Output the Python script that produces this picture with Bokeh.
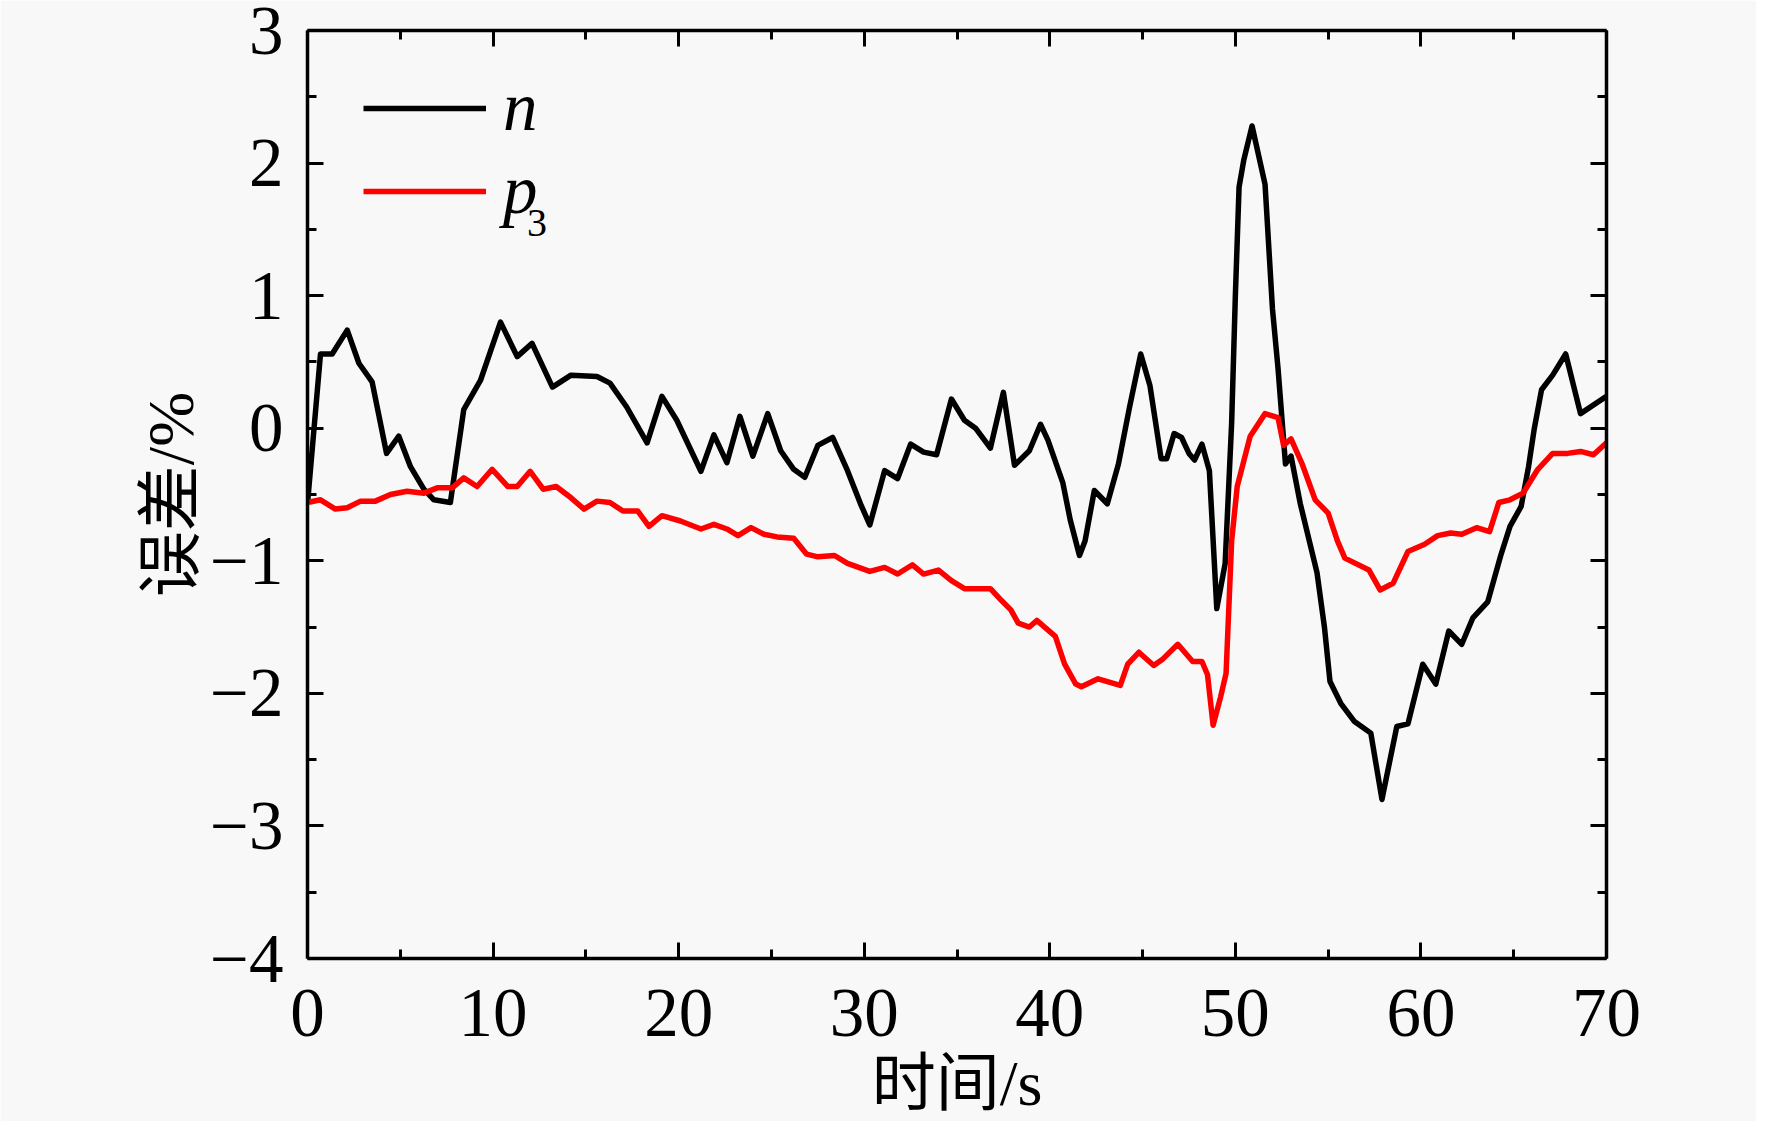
from bokeh.plotting import figure
from bokeh.models import LinearAxis, FixedTicker, Legend, LegendItem, Label, Range1d
from bokeh.embed import file_html
from bokeh.resources import INLINE

# ---- data ----
n_t = [0, 0.7, 1.33, 2.14, 2.77, 3.48, 4.26, 4.92, 5.55, 6.27, 6.81, 7.7, 8.42, 9.32, 10.4, 11.3,
       12.1, 13.2, 14.2, 15.6, 16.3, 17.2, 18.3, 19.1, 19.9, 21.2, 21.9, 22.6, 23.3, 24.0, 24.8,
       25.5, 26.2, 26.8, 27.5, 28.3, 29.1, 29.8, 30.3, 31.1, 31.8, 32.5, 33.2, 33.9, 34.7, 35.4,
       36.0, 36.8, 37.5, 38.1, 38.9, 39.5, 39.9, 40.7, 41.1, 41.6, 41.9, 42.4, 43.1, 43.7, 44.3,
       44.9, 45.4, 46.0, 46.3, 46.7, 47.1, 47.5, 47.8, 48.2, 48.6, 49.0, 49.45, 49.8, 50.0, 50.2,
       50.45, 50.9, 51.6, 52.0, 52.3, 52.7, 53.0, 53.5, 54.4, 54.8, 55.1, 55.7, 56.4, 57.3, 57.9,
       58.7, 59.3, 60.1, 60.8, 61.5, 62.2, 62.8, 63.6, 64.3, 64.8, 65.4, 65.8, 66.1, 66.5, 67.1,
       67.8, 68.6, 70.0]
n_err = [-0.57, 0.56, 0.56, 0.74, 0.49, 0.35, -0.19, -0.06, -0.29, -0.46, -0.54, -0.56, 0.14, 0.36,
         0.80, 0.54, 0.64, 0.31, 0.40, 0.39, 0.34, 0.16, -0.11, 0.24, 0.06, -0.325, -0.05, -0.26,
         0.09, -0.21, 0.11, -0.17, -0.31, -0.37, -0.13, -0.07, -0.32, -0.57, -0.73, -0.32, -0.38,
         -0.12, -0.18, -0.20, 0.22, 0.06, 0.0, -0.15, 0.27, -0.28, -0.17, 0.03, -0.09, -0.41, -0.69,
         -0.96, -0.85, -0.47, -0.57, -0.27, 0.16, 0.56, 0.32, -0.23, -0.23, -0.04, -0.07, -0.19,
         -0.24, -0.12, -0.32, -1.36, -1.02, 0.04, 1.0, 1.82, 2.02, 2.28, 1.84, 0.90, 0.45, -0.27,
         -0.21, -0.57, -1.09, -1.50, -1.91, -2.08, -2.21, -2.30, -2.80, -2.25, -2.23, -1.78, -1.93,
         -1.53, -1.63, -1.43, -1.31, -0.96, -0.74, -0.59, -0.29, -0.01, 0.29, 0.40, 0.56, 0.11, 0.24]

p3_t = [0, 0.7, 1.5, 2.14, 2.86, 3.66, 4.47, 5.37, 6.27, 6.99, 7.8, 8.42, 9.14, 9.95, 10.8, 11.3,
        12.0, 12.7, 13.4, 14.2, 14.9, 15.6, 16.3, 17.0, 17.8, 18.4, 19.1, 20.1, 21.2, 21.9, 22.6,
        23.2, 23.9, 24.6, 25.3, 26.2, 26.9, 27.5, 28.4, 29.1, 30.3, 31.1, 31.8, 32.6, 33.2, 34.0,
        34.7, 35.4, 36.8, 37.4, 37.9, 38.3, 38.9, 39.3, 40.3, 40.8, 41.4, 41.7, 42.6, 43.8, 44.2,
        44.8, 45.6, 46.1, 46.9, 47.7, 48.2, 48.5, 48.8, 49.2, 49.5, 49.8, 50.1, 50.8, 51.6, 52.3,
        52.6, 53.0, 53.6, 54.3, 55.0, 55.5, 55.9, 57.2, 57.8, 58.5, 59.3, 60.2, 60.9, 61.6, 62.2,
        63.0, 63.7, 64.2, 64.8, 65.5, 66.3, 67.1, 67.9, 68.6, 69.3, 70.0]
p3_err = [-0.56, -0.54, -0.61, -0.60, -0.55, -0.55, -0.50, -0.475, -0.49, -0.45, -0.45, -0.375,
          -0.44, -0.31, -0.44, -0.44, -0.325, -0.46, -0.44, -0.525, -0.61, -0.55, -0.56, -0.625,
          -0.625, -0.74, -0.66, -0.70, -0.76, -0.725, -0.76, -0.81, -0.75, -0.80, -0.82, -0.83,
          -0.95, -0.97, -0.96, -1.02, -1.08, -1.05, -1.10, -1.03, -1.10, -1.07, -1.15, -1.21, -1.21,
          -1.30, -1.37, -1.47, -1.50, -1.45, -1.57, -1.78, -1.93, -1.95, -1.89, -1.94, -1.78, -1.69,
          -1.79, -1.74, -1.63, -1.76, -1.76, -1.86, -2.24, -2.03, -1.85, -0.85, -0.44, -0.06, 0.11,
          0.08, -0.13, -0.08, -0.27, -0.54, -0.64, -0.85, -0.98, -1.07, -1.22, -1.17, -0.93, -0.875,
          -0.81, -0.79, -0.80, -0.75, -0.78, -0.56, -0.54, -0.49, -0.31, -0.19, -0.19, -0.175,
          -0.20, -0.11]

x_ticks = [0, 10, 20, 30, 40, 50, 60, 70]
x_tick_labels = ["0", "10", "20", "30", "40", "50", "60", "70"]
x_minor = [5, 15, 25, 35, 45, 55, 65]
y_ticks = [-4, -3, -2, -1, 0, 1, 2, 3]
y_tick_labels = ["\u22124", "\u22123", "\u22122", "\u22121", "0", "1", "2", "3"]
y_minor = [-3.5, -2.5, -1.5, -0.5, 0.5, 1.5, 2.5]
legend_labels = ["n", "p"]
legend_sub = "3"
x_title = "时间/s"
y_title = "误差/%"

SERIF = "Liberation Serif"
MIXED = "Liberation Serif, Noto Sans CJK SC"
BG = "#f8f8f8"

p = figure(width=1756, height=1121, x_range=Range1d(0, 70), y_range=Range1d(-4, 3),
           output_backend="svg", toolbar_location=None,
           min_border_left=307, min_border_top=30, min_border_right=150, min_border_bottom=163)
p.background_fill_color = BG
p.border_fill_color = BG
p.outline_line_color = None
p.grid.visible = False

xt = FixedTicker(ticks=x_ticks, minor_ticks=x_minor)
yt = FixedTicker(ticks=y_ticks, minor_ticks=y_minor)


def style(ax):
    ax.axis_line_color = "black"
    ax.axis_line_width = 3.5
    ax.major_tick_in = 16
    ax.major_tick_out = 0
    ax.minor_tick_in = 9
    ax.minor_tick_out = 0
    ax.major_tick_line_width = 3
    ax.minor_tick_line_width = 3
    ax.major_tick_line_color = "black"
    ax.minor_tick_line_color = "black"
    ax.major_label_text_font = SERIF
    ax.major_label_text_color = "black"
    ax.major_label_text_font_size = "69px"


xa = p.xaxis[0]
xa.ticker = xt
xa.major_label_overrides = dict(zip(x_ticks, x_tick_labels))
style(xa)
xa.major_label_standoff = 31
xa.axis_label = x_title
xa.axis_label_text_font = MIXED
xa.axis_label_text_font_style = "normal"
xa.axis_label_text_font_size = "64px"
xa.axis_label_text_color = "black"
xa.axis_label_standoff = 9

ya = p.yaxis[0]
ya.ticker = yt
ya.major_label_overrides = dict(zip(y_ticks, y_tick_labels))
style(ya)
ya.major_label_standoff = 24
ya.axis_label = y_title
ya.axis_label_text_font = MIXED
ya.axis_label_text_font_style = "normal"
ya.axis_label_text_font_size = "66px"
ya.axis_label_text_color = "black"
ya.axis_label_standoff = 0

# mirrored axes on top and right: ticks only, empty labels
top = LinearAxis(ticker=xt)
style(top)
top.major_label_overrides = {t: "" for t in x_ticks}
top.major_label_text_font_size = "1px"
top.major_label_standoff = 0
p.add_layout(top, "above")
right = LinearAxis(ticker=yt)
style(right)
right.major_label_overrides = {t: "" for t in y_ticks}
right.major_label_text_font_size = "1px"
right.major_label_standoff = 0
p.add_layout(right, "right")

rn = p.line(n_t, n_err, line_color="black", line_width=5.5, line_join="round")
rp = p.line(p3_t, p3_err, line_color="#ff0000", line_width=5.5, line_join="round")

legend = Legend(items=[LegendItem(label=legend_labels[0], renderers=[rn]),
                       LegendItem(label=legend_labels[1], renderers=[rp])],
                location=(56, 728), orientation="vertical")
legend.border_line_color = None
legend.background_fill_alpha = 0
legend.padding = 0
legend.margin = 0
legend.spacing = 4
legend.glyph_width = 123
legend.glyph_height = 76
legend.label_height = 76
legend.label_standoff = 17
legend.label_text_font = SERIF
legend.label_text_font_style = "italic"
legend.label_text_font_size = "69px"
legend.label_text_color = "black"
p.add_layout(legend)

sub = Label(x=11.83, y=1.55, text=legend_sub, text_font=SERIF, text_font_size="40px",
            text_align="left", text_baseline="alphabetic", text_color="black")
p.add_layout(sub)

open("out.html", "w").write(file_html(p, INLINE))
